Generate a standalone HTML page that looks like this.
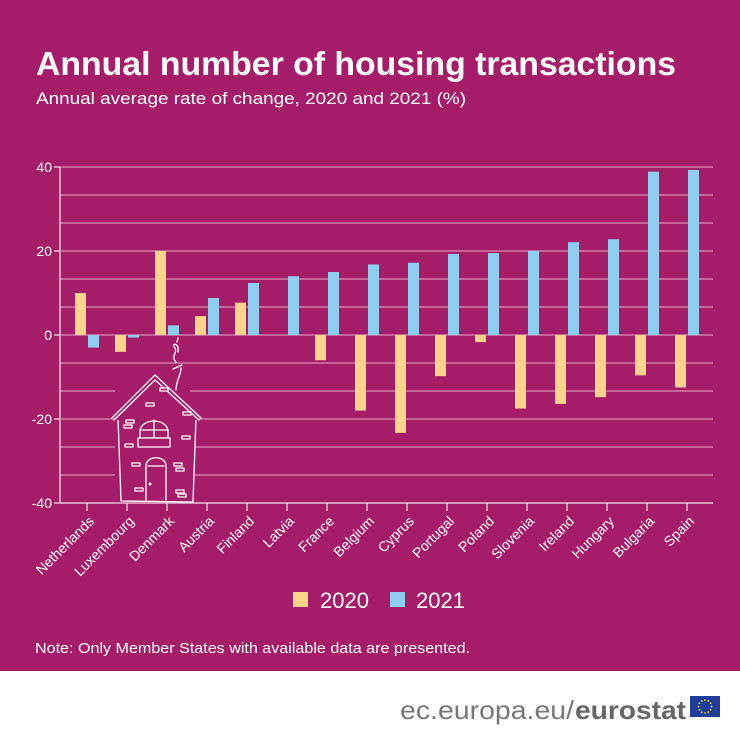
<!DOCTYPE html>
<html><head><meta charset="utf-8"><style>
html,body{margin:0;padding:0;width:740px;height:740px;overflow:hidden;background:#fff}
svg{display:block}
text{font-family:"Liberation Sans",sans-serif}
</style></head><body>
<svg id="s" width="740" height="740" viewBox="0 0 740 740" xmlns="http://www.w3.org/2000/svg">
<rect x="0" y="0" width="740" height="671" fill="#A51C69"/>
<rect x="0" y="671" width="740" height="69" fill="#fff"/>
<text x="36" y="75" font-size="33" font-weight="bold" fill="#fff" textLength="640" lengthAdjust="spacingAndGlyphs">Annual number of housing transactions</text>
<text x="36" y="104" font-size="17" fill="#fff" textLength="430" lengthAdjust="spacingAndGlyphs">Annual average rate of change, 2020 and 2021 (%)</text>
<g id="grid" stroke="#d98fb7" stroke-width="1.2"></g>
<g id="bars"></g>
<g id="house" fill="#A51C69" stroke="#fff" stroke-width="1.3" stroke-linecap="round" stroke-linejoin="round">
<rect x="115" y="380" width="75" height="125" stroke="none"/>
<polygon points="112,418 155,376 201,418 196,418 165,388 155,380 117,418" stroke="none"/>
<path d="M118,418 L121,501 L193,502 L196,418"/>
<path d="M112,418 L155,375 L201,418"/>
<path d="M114,420 L155,380 L199,420"/>
<path d="M176,390 C176,380 181,376 181,368 M173,369 L182,365 M176,362 C170,356 178,353 175,348 C170,343 180,342 178,352 M177,342 L178,338"/>
<path d="M140,430 C143,418 165,418 168,430 L168,438 L140,438 Z M154,420 L154,438 M140,430 L168,430"/>
<rect x="138" y="438" width="32" height="9"/>
<path d="M146,500 L146,466 C146,455 166,455 166,466 L166,500 M148,466 L164,466"/>
<circle cx="150" cy="484" r="0.8" fill="#fff"/>
<path d="M126,420 h8 v3 h-8z M124,425 h8 v3 h-8z M146,403 h8 v3 h-8z M183,412 h8 v3 h-8z M182,436 h8 v3 h-8z M125,444 h8 v3 h-8z M132,463 h8 v3 h-8z M174,463 h8 v3 h-8z M176,468 h8 v3 h-8z M135,488 h8 v3 h-8z M176,490 h8 v3 h-8z M178,494 h8 v3 h-8z M160,388 h8 v3 h-8z"/>
</g>
<g id="axis" stroke="#f0d6e4" stroke-width="1.3" fill="none"></g>
<g id="labels" fill="#fff" font-size="14"></g>
<rect x="293" y="592" width="15" height="15" fill="#FDD48A"/>
<text x="320" y="608" font-size="22" fill="#fff">2020</text>
<rect x="390" y="592" width="15" height="15" fill="#8DCDF0"/>
<text x="416" y="608" font-size="22" fill="#fff">2021</text>
<text x="35" y="653" font-size="15" fill="#fff" textLength="435" lengthAdjust="spacingAndGlyphs">Note: Only Member States with available data are presented.</text>
<text x="400" y="719" font-size="26" fill="#777" textLength="174" lengthAdjust="spacingAndGlyphs">ec.europa.eu/</text>
<text x="575" y="719" font-size="26" font-weight="bold" fill="#666" textLength="111" lengthAdjust="spacingAndGlyphs">eurostat</text>
<rect x="690" y="696" width="30" height="21" fill="#1F3D99"/>
<g id="stars" fill="#FFDD00"></g>
</svg>
<script>
var NS="http://www.w3.org/2000/svg";
function el(p,t,a,txt){var e=document.createElementNS(NS,t);for(var k in a)e.setAttribute(k,a[k]);if(txt)e.textContent=txt;document.getElementById(p).appendChild(e);return e;}
var y0=335,k=4.2;
for(var i=-6;i<=6;i++){var y=y0-i*28;el("grid","line",{x1:60,x2:713,y1:y,y2:y});}
var d=[["Netherlands",10,-3],["Luxembourg",-4,-0.6],["Denmark",20,2.3],["Austria",4.5,8.8],["Finland",7.7,12.4],["Latvia",0,14],["France",-6,15],["Belgium",-18,16.8],["Cyprus",-23.3,17.2],["Portugal",-9.8,19.3],["Poland",-1.7,19.5],["Slovenia",-17.5,20],["Ireland",-16.4,22.1],["Hungary",-14.8,22.8],["Bulgaria",-9.6,38.9],["Spain",-12.5,39.3]];
d.forEach(function(r,j){var c=87+40*j;
 [[r[1],c-12,"#FDD48A"],[r[2],c+1,"#8DCDF0"]].forEach(function(b){if(b[0]==0)return;var h=Math.abs(b[0])*k;el("bars","rect",{x:b[1],width:11,y:b[0]>0?y0-h:y0,height:h,fill:b[2]});});
 el("axis","line",{x1:c,x2:c,y1:503,y2:511});
 var lx=c+8,ly=522;
 el("labels","text",{x:lx,y:ly,"text-anchor":"end",transform:"rotate(-45 "+lx+" "+ly+")"},r[0]);
});
el("axis","line",{x1:60,x2:60,y1:167,y2:503});
el("axis","line",{x1:60,x2:713,y1:503,y2:503});
[40,20,0,-20,-40].forEach(function(v){var y=y0-v*k;el("axis","line",{x1:54,x2:60,y1:y,y2:y});el("labels","text",{x:52,y:y+5,"text-anchor":"end","font-size":"14"},String(v));});
for(var s=0;s<12;s++){var a=s*Math.PI/6;el("stars","circle",{cx:705+6.5*Math.cos(a),cy:706.5+6.5*Math.sin(a),r:0.9});}
</script>
</body></html>
